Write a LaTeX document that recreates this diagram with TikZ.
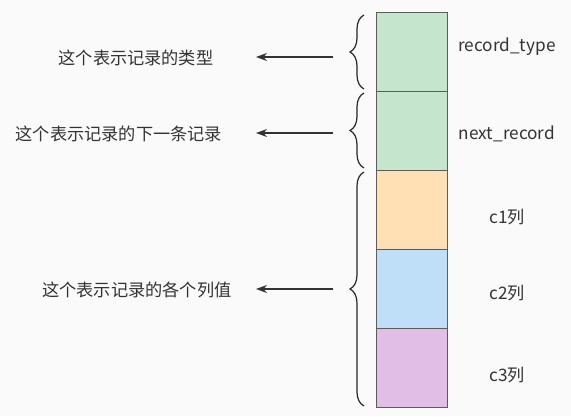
\documentclass[tikz,border=0pt]{standalone}
\usepackage{fontspec}
\setmainfont{Noto Sans CJK SC}
\usetikzlibrary{decorations.pathreplacing,arrows.meta}
\definecolor{cgreen}{HTML}{C6E5CD}
\definecolor{corange}{HTML}{FFE0B5}
\definecolor{cblue}{HTML}{BEDFF7}
\definecolor{cpurple}{HTML}{E1BEE5}
\definecolor{cline}{HTML}{333333}
\definecolor{ctext}{HTML}{333333}
\tikzset{
  field/.style={draw=cline!80, line width=0.8pt, minimum width=71pt, minimum height=79pt, inner sep=0pt, anchor=north west},
  lbl/.style={font=\fontsize{17.2}{20}\selectfont, text=ctext, inner sep=0pt},
  bracel/.style={draw=black!85, line width=1.2pt, decorate, decoration={brace, amplitude=14pt}},
  arr/.style={draw=cline, line width=1.3pt, -{Stealth[length=11pt,width=8pt]}}
}
\begin{document}
\begin{tikzpicture}[x=1pt,y=-1pt]
\fill[white!98!black] (0,0) rectangle (571,416);
\useasboundingbox (0,0) rectangle (571,416);
\node[field, fill=cgreen]  (b1) at (376,12)  {};
\node[field, fill=cgreen]  (b2) at (376,91)  {};
\node[field, fill=corange] (b3) at (376,170) {};
\node[field, fill=cblue]   (b4) at (376,249) {};
\node[field, fill=cpurple] (b5) at (376,328) {};
\node[lbl] (l1) at (507,47)  {record\_type};
\node[lbl] (l2) at (507,134) {next\_record};
\node[lbl] (l3) at (507,217) {c1列};
\node[lbl] (l4) at (507,293) {c2列};
\node[lbl] (l5) at (507,375) {c3列};
\coordinate (br1a) at (364,89);
\coordinate (br1b) at (364,15);
\coordinate (br2a) at (364,168);
\coordinate (br2b) at (364,93);
\coordinate (br3a) at (364,406);
\coordinate (br3b) at (364,172);
\draw[bracel] (br1a) -- (br1b);
\draw[bracel] (br2a) -- (br2b);
\draw[bracel] (br3a) -- (br3b);
\coordinate (a1s) at (333,57);  \coordinate (a1e) at (256,57);
\coordinate (a2s) at (333,133); \coordinate (a2e) at (256,133);
\coordinate (a3s) at (333,289); \coordinate (a3e) at (256,289);
\draw[arr] (a1s) -- (a1e);
\draw[arr] (a2s) -- (a2e);
\draw[arr] (a3s) -- (a3e);
\node[lbl] (t1) at (136,58)  {这个表示记录的类型};
\node[lbl] (t2) at (119,134) {这个表示记录的下一条记录};
\node[lbl] (t3) at (137,290) {这个表示记录的各个列值};
\end{tikzpicture}
\end{document}
